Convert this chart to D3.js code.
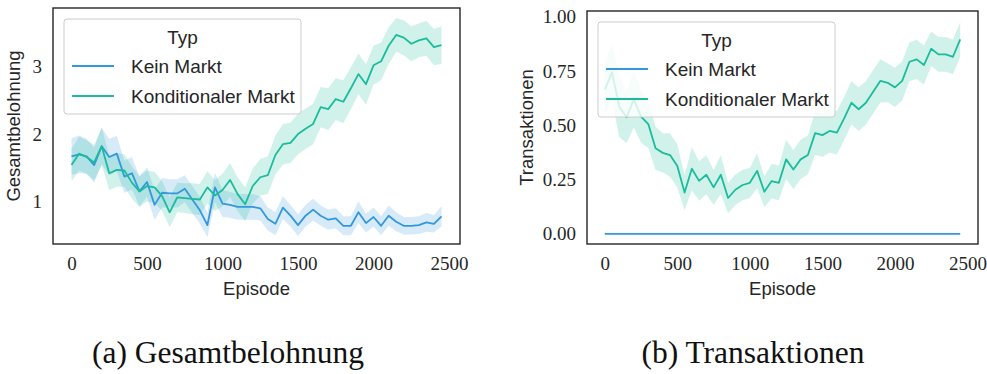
<!DOCTYPE html>
<html>
<head>
<meta charset="utf-8">
<script src="https://cdn.jsdelivr.net/npm/d3@7"></script>
<style>
  body { margin: 0; background: #fff; }
</style>
</head>
<body>
<script>
/** Daten: Episoden (x), je Typ Mittelwert und halbe Breite des Konfidenzbands */
var episodes = [0, 50, 100, 150, 200, 250, 300, 350, 400, 450,
  500, 550, 600, 650, 700, 750, 800, 850, 900, 950,
  1000, 1050, 1100, 1150, 1200, 1250, 1300, 1350, 1400, 1450,
  1500, 1550, 1600, 1650, 1700, 1750, 1800, 1850, 1900, 1950,
  2000, 2050, 2100, 2150, 2200, 2250, 2300, 2350, 2400, 2450];

var typNames = ["Kein Markt", "Konditionaler Markt"];

// (a) Gesamtbelohnung
var rewardKein = [1.67, 1.70, 1.67, 1.54, 1.82, 1.66, 1.71, 1.37, 1.42, 1.15,
  1.29, 0.95, 1.13, 1.12, 1.12, 1.19, 1.03, 0.87, 0.65, 1.21,
  0.97, 0.95, 0.92, 0.92, 0.92, 0.90, 0.74, 0.67, 0.91, 0.79,
  0.65, 0.79, 0.88, 0.79, 0.73, 0.75, 0.64, 0.64, 0.84, 0.68,
  0.77, 0.64, 0.79, 0.70, 0.64, 0.64, 0.65, 0.69, 0.67, 0.78];
var rewardKeinCi = [0.27, 0.28, 0.26, 0.26, 0.27, 0.27, 0.26, 0.24, 0.24, 0.22,
  0.22, 0.22, 0.22, 0.21, 0.21, 0.20, 0.20, 0.20, 0.18, 0.22,
  0.20, 0.19, 0.19, 0.19, 0.19, 0.18, 0.17, 0.17, 0.17, 0.16,
  0.16, 0.16, 0.16, 0.15, 0.15, 0.15, 0.14, 0.14, 0.16, 0.14,
  0.14, 0.14, 0.15, 0.14, 0.13, 0.13, 0.13, 0.14, 0.13, 0.15];
var rewardKond = [1.54, 1.71, 1.66, 1.58, 1.82, 1.42, 1.47, 1.46, 1.28, 1.15,
  1.23, 1.21, 1.08, 0.84, 1.06, 1.05, 1.04, 1.03, 1.21, 1.09,
  1.17, 1.32, 1.11, 0.96, 1.23, 1.36, 1.39, 1.69, 1.85, 1.87,
  2.00, 2.08, 2.15, 2.40, 2.37, 2.52, 2.48, 2.68, 2.89, 2.74,
  3.02, 3.08, 3.31, 3.47, 3.43, 3.34, 3.39, 3.42, 3.29, 3.32];
var rewardKondCi = [0.24, 0.25, 0.25, 0.26, 0.28, 0.25, 0.25, 0.24, 0.24, 0.23,
  0.23, 0.23, 0.22, 0.22, 0.22, 0.22, 0.23, 0.23, 0.24, 0.23,
  0.24, 0.25, 0.25, 0.25, 0.26, 0.27, 0.28, 0.29, 0.30, 0.30,
  0.30, 0.30, 0.30, 0.30, 0.31, 0.31, 0.32, 0.31, 0.30, 0.30,
  0.29, 0.28, 0.27, 0.25, 0.26, 0.26, 0.25, 0.26, 0.27, 0.28];

// (b) Transaktionen
var transKein = [0, 0, 0, 0, 0, 0, 0, 0, 0, 0,
  0, 0, 0, 0, 0, 0, 0, 0, 0, 0,
  0, 0, 0, 0, 0, 0, 0, 0, 0, 0,
  0, 0, 0, 0, 0, 0, 0, 0, 0, 0,
  0, 0, 0, 0, 0, 0, 0, 0, 0, 0];
var transKond = [0.665, 0.745, 0.586, 0.537, 0.620, 0.540, 0.506, 0.394, 0.373, 0.363,
  0.313, 0.190, 0.300, 0.244, 0.272, 0.214, 0.272, 0.165, 0.203, 0.225,
  0.235, 0.290, 0.194, 0.243, 0.235, 0.343, 0.296, 0.343, 0.363, 0.464,
  0.455, 0.474, 0.466, 0.532, 0.604, 0.574, 0.604, 0.655, 0.705, 0.696,
  0.675, 0.705, 0.793, 0.804, 0.778, 0.853, 0.827, 0.827, 0.816, 0.896];
var transKondCi = [0.12, 0.13, 0.14, 0.12, 0.13, 0.12, 0.11, 0.10, 0.09, 0.10,
  0.10, 0.08, 0.10, 0.09, 0.09, 0.08, 0.09, 0.07, 0.07, 0.07,
  0.07, 0.08, 0.07, 0.08, 0.08, 0.09, 0.09, 0.09, 0.09, 0.10,
  0.10, 0.10, 0.10, 0.10, 0.10, 0.10, 0.10, 0.10, 0.10, 0.09,
  0.09, 0.09, 0.09, 0.09, 0.09, 0.08, 0.08, 0.08, 0.08, 0.08];

// Achsenbeschriftungen
var xTicks = [0, 500, 1000, 1500, 2000, 2500];
var rewardTicks = [1, 2, 3];
var transTicks = [0, 0.25, 0.5, 0.75, 1];

var colors = ["#3498db", "#1abc9c"];
var textColor = "#262626";
var sansFont = "'Liberation Sans', Arial, sans-serif";
var serifFont = "'Liberation Serif', 'Times New Roman', serif";

var svg = d3.select("body").append("svg")
    .attr("width", 987)
    .attr("height", 374)
    .style("background", "#fff");

/** ein Teilbild zeichnen: Bänder, Linien, Achsen, Rahmen, Legende */
function drawPanel(opt) {
    var x = d3.scaleLinear().domain([-122.5, 2572.5]).range([opt.left, opt.right]);
    var y = d3.scaleLinear().domain(opt.yDomain).range([opt.bottom, opt.top]);
    var g = svg.append("g");

    // Bänder zuerst (wie matplotlib zorder), dann Linien
    opt.series.forEach(function (s, k) {
        if (!s.ci) return;
        var area = d3.area()
            .x(function (d, i) { return x(episodes[i]); })
            .y0(function (d, i) { return y(d - s.ci[i]); })
            .y1(function (d, i) { return y(d + s.ci[i]); });
        g.append("path").datum(s.values)
            .attr("d", area)
            .attr("fill", colors[k])
            .attr("fill-opacity", 0.2);
    });
    opt.series.forEach(function (s, k) {
        var line = d3.line()
            .x(function (d, i) { return x(episodes[i]); })
            .y(function (d) { return y(d); });
        g.append("path").datum(s.values)
            .attr("d", line)
            .attr("fill", "none")
            .attr("stroke", colors[k])
            .attr("stroke-width", 1.8)
            .attr("stroke-linejoin", "round");
    });

    // x-Achse
    var xAxis = g.append("g")
        .attr("transform", "translate(0," + opt.bottom + ")")
        .call(d3.axisBottom(x).tickValues(xTicks).tickFormat(d3.format("d")).tickSize(0).tickPadding(13));
    // y-Achse
    var yAxis = g.append("g")
        .attr("transform", "translate(" + opt.left + ",0)")
        .call(d3.axisLeft(y).tickValues(opt.yTicks).tickFormat(opt.yFormat).tickSize(0).tickPadding(11));
    [xAxis, yAxis].forEach(function (a) {
        a.select(".domain").remove();
        a.selectAll("text")
            .attr("fill", textColor)
            .style("font-family", serifFont)
            .style("font-size", "19px");
    });

    // Rahmen
    g.append("rect")
        .attr("x", opt.left).attr("y", opt.top)
        .attr("width", opt.right - opt.left).attr("height", opt.bottom - opt.top)
        .attr("fill", "none")
        .attr("stroke", textColor)
        .attr("stroke-width", 1.4);

    // Achsentitel
    g.append("text")
        .attr("x", (opt.left + opt.right) / 2).attr("y", opt.bottom + 51)
        .attr("text-anchor", "middle")
        .attr("fill", textColor)
        .style("font-family", sansFont).style("font-size", "18.5px")
        .text("Episode");
    g.append("text")
        .attr("transform", "translate(" + opt.yLabelX + "," + (opt.top + opt.bottom) / 2 + ") rotate(-90)")
        .attr("text-anchor", "middle")
        .attr("fill", textColor)
        .style("font-family", sansFont).style("font-size", "18.5px")
        .text(opt.yLabel);

    // Legende
    var leg = g.append("g").attr("transform", "translate(" + (opt.left + 11) + "," + (opt.top + 11) + ")");
    leg.append("rect")
        .attr("width", 237).attr("height", 95).attr("rx", 3)
        .attr("fill", "#fff").attr("fill-opacity", 0.8)
        .attr("stroke", "#cccccc").attr("stroke-width", 1);
    leg.append("text")
        .attr("x", 118.5).attr("y", 24.5)
        .attr("text-anchor", "middle")
        .attr("fill", textColor)
        .style("font-family", sansFont).style("font-size", "19px")
        .text("Typ");
    typNames.forEach(function (name, k) {
        leg.append("line")
            .attr("x1", 8).attr("x2", 50)
            .attr("y1", 47 + 30 * k).attr("y2", 47 + 30 * k)
            .attr("stroke", colors[k]).attr("stroke-width", 1.8);
        leg.append("text")
            .attr("x", 67).attr("y", 54 + 30 * k)
            .attr("fill", textColor)
            .style("font-family", sansFont).style("font-size", "19px")
            .text(name);
    });

    // Unterschrift
    svg.append("text")
        .attr("x", opt.captionX).attr("y", 363)
        .attr("text-anchor", "middle")
        .attr("fill", "#111")
        .style("font-family", serifFont).style("font-size", "31.5px")
        .text(opt.caption);
}

drawPanel({
    left: 53, right: 460, top: 8, bottom: 244,
    yDomain: [0.37, 3.87],
    yTicks: rewardTicks, yFormat: d3.format("d"),
    yLabel: "Gesamtbelohnung", yLabelX: 19.5,
    series: [{ values: rewardKein, ci: rewardKeinCi }, { values: rewardKond, ci: rewardKondCi }],
    caption: "(a) Gesamtbelohnung", captionX: 228
});

drawPanel({
    left: 587, right: 978, top: 11, bottom: 244,
    yDomain: [-0.047, 1.027],
    yTicks: transTicks, yFormat: d3.format(".2f"),
    yLabel: "Transaktionen", yLabelX: 533,
    series: [{ values: transKein, ci: null }, { values: transKond, ci: transKondCi }],
    caption: "(b) Transaktionen", captionX: 753
});
</script>
</body>
</html>
